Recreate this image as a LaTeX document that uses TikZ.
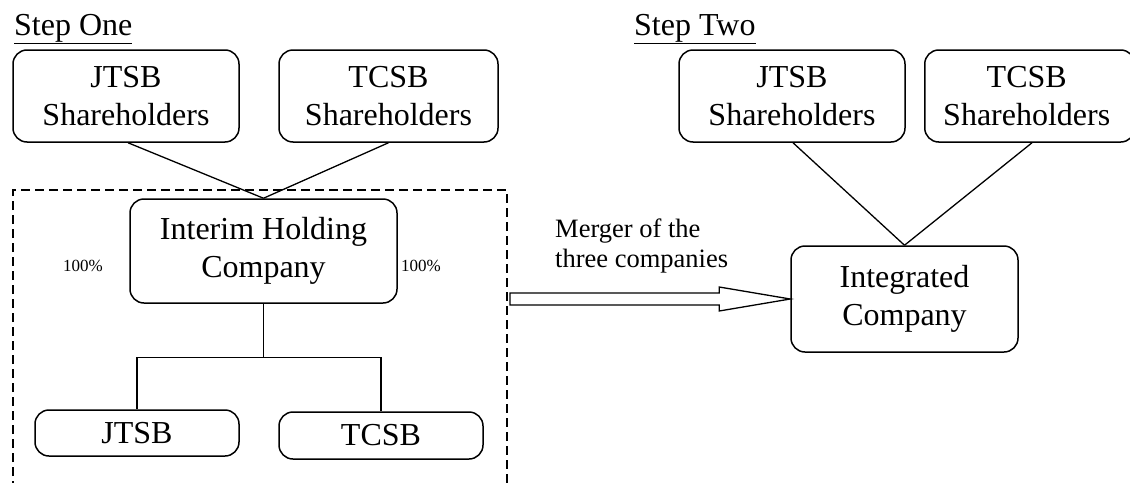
\documentclass[tikz,border=0pt]{standalone}
\usepackage{fontspec}
\setmainfont{Liberation Serif}
\usetikzlibrary{calc}
\tikzset{
  box/.style={draw, line width=1.5pt, rounded corners=14pt, inner sep=0pt, align=center,
    font=\fontsize{32}{38}\selectfont},
  link/.style={line width=1.3pt},
  pct/.style={font=\fontsize{17}{20}\selectfont, inner sep=0pt},
  steplabel/.style={font=\fontsize{32}{38}\selectfont, inner sep=0pt, anchor=base west},
  frame/.style={line width=1.2pt, dash pattern=on 9pt off 5pt},
}
\begin{document}
\begin{tikzpicture}[x=1pt,y=-1pt]
\useasboundingbox (0,0) rectangle (1130,482);
\clip (0,0) rectangle (1130,482);
% Step One
\node[steplabel] (s1) at (14,35) {\underline{Step One}};
\node[box, minimum width=226pt, minimum height=92pt] (js1) at (126,96) {JTSB\\Shareholders};
\node[box, minimum width=219pt, minimum height=92pt] (ts1) at (388.5,96) {TCSB\\Shareholders};
\node[box, minimum width=267pt, minimum height=104pt] (ihc) at (263.5,251) {Interim Holding\\Company};
\node[box, minimum width=204pt, minimum height=46pt] (j) at (137,433) {JTSB};
\node[box, minimum width=204pt, minimum height=47pt] (t) at (381,435.5) {TCSB};
\node[pct] (p1) at (83,266) {100\%};
\node[pct] (p2) at (421,266) {100\%};
\draw[link] (js1.south -| 128,0) -- (ihc.north);
\draw[link] (ts1.south) -- (ihc.north);
\draw[link] (ihc.south) -- ++(0,54) coordinate (hb) -| (j.north);
\draw[link] (hb) -| (t.north);
% dashed frame
\coordinate (fbl) at (13,490);
\coordinate (fbr) at (507,490);
\draw[frame] (fbl) -- (13,190) -- (507,190) -- (fbr);
% Step Two
\node[steplabel] (s2) at (634,35) {\underline{Step Two}};
\node[box, minimum width=226pt, minimum height=92pt] (js2) at (792,96) {JTSB\\Shareholders};
\node[box, minimum width=210pt, minimum height=92pt, anchor=west] (ts2) at (924,96) {\hspace*{-6pt}TCSB\\\hspace*{-6pt}Shareholders};
\node[box, minimum width=227pt, minimum height=106pt] (ic) at (904.5,299) {Integrated\\Company};
\draw[link] (js2.south -| 793,0) -- (ic.north);
\draw[link] (ts2.south -| 1032,0) -- (ic.north);
% merger arrow
\node[font=\fontsize{26.5}{30}\selectfont, align=left, anchor=north west, inner sep=0pt] (mt) at (555,219) {Merger of the\\three companies};
\coordinate (as) at (510,299);
\draw[line width=1.3pt, line join=miter]
  ($(as)+(0,-6)$) -- ($(ic.west)+(-71,-6)$) -- ($(ic.west)+(-71,-12)$) -- (ic.west)
  -- ($(ic.west)+(-71,12)$) -- ($(ic.west)+(-71,6)$) -- ($(as)+(0,6)$) -- cycle;
\end{tikzpicture}
\end{document}
